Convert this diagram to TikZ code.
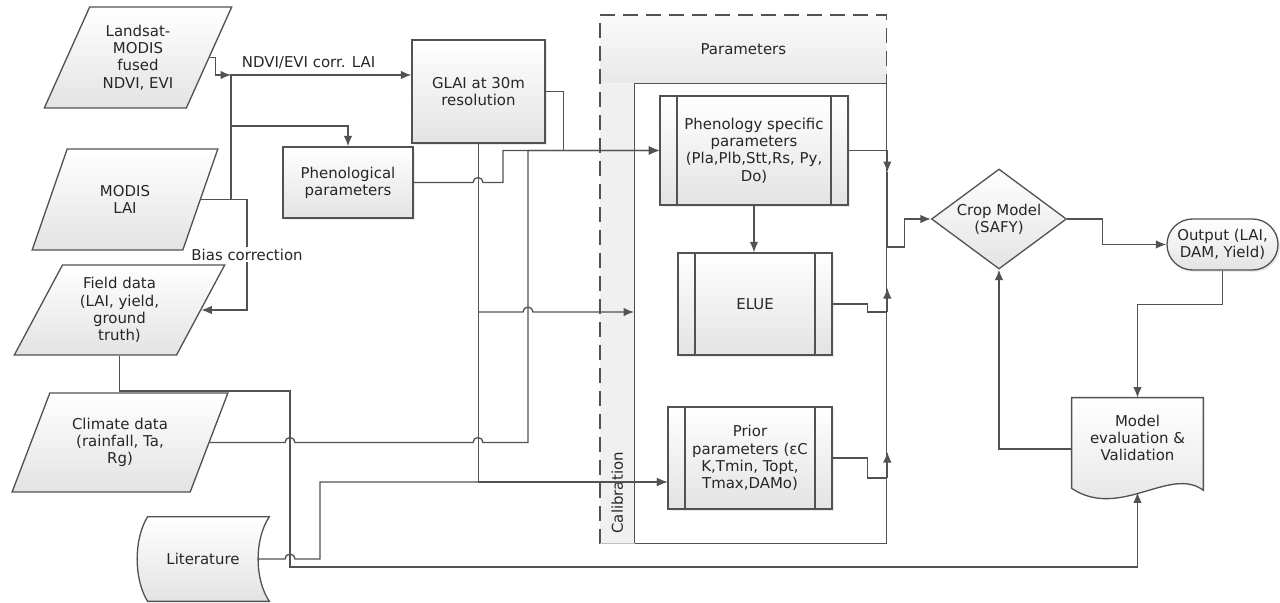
\documentclass[tikz,border=0pt]{standalone}
\usepackage{fontspec}
\setmainfont{DejaVu Sans}
\usetikzlibrary{arrows.meta,shapes.geometric,calc,backgrounds,shadows}
\colorlet{ln}{black!68}

\begin{document}
\begin{tikzpicture}[x=0.2mm,y=-0.2mm,font=\fontsize{8.5}{9.8}\selectfont,text=black!85,>=Latex,
  con/.style={draw=ln,line width=0.75pt},
  arr/.style={con,-{Latex[length=2.1mm,width=1.7mm]}},
  shd/.style={top color=white,bottom color=black!11},
  shdw/.style={drop shadow={shadow xshift=0.4mm,shadow yshift=-0.4mm,opacity=0.08,fill=black}},
  io/.style={trapezium,trapezium left angle=63,trapezium right angle=117,trapezium stretches=true,draw=ln,line width=0.75pt,shd,align=center,inner sep=1pt},
  box/.style={rectangle,draw=ln,line width=0.75pt,shd,shdw,align=center},
  proc/.style={box,path picture={
    \draw[ln,line width=0.75pt] ([xshift=3.4mm]path picture bounding box.north west)--([xshift=3.4mm]path picture bounding box.south west);
    \draw[ln,line width=0.75pt] ([xshift=-3.4mm]path picture bounding box.north east)--([xshift=-3.4mm]path picture bounding box.south east);}}]
\useasboundingbox (0,0) rectangle (1280,602);

% container: Parameters / Calibration
\node[anchor=north west,minimum width=57.2mm,minimum height=13.6mm,inner sep=0,top color=black!2,bottom color=black!9] (prm) at (600,15) {Parameters};
\node[anchor=north west,minimum width=6.8mm,minimum height=92mm,inner sep=0,fill=black!6] (cal) at (600,83) {};
\node[anchor=north west,minimum width=50.4mm,minimum height=92mm,inner sep=0,draw=ln,line width=0.75pt,fill=white] (inner) at (634,83) {};
\draw[ln,line width=0.75pt,dash pattern=on 3mm off 1.6mm] (cal.south west)--(prm.north west)--(prm.north east)--(prm.south east);
\draw[black!25,line width=0.75pt] (cal.south west)--(cal.south east);
\node[rotate=90,anchor=west] (calt) at ($(cal.south)+(0,-4)$) {Calibration};

% inputs
\node[io,minimum width=37.6mm,minimum height=20.2mm] (land) at (138,57.5) {Landsat-\\MODIS\\fused\\NDVI, EVI};
\node[io,minimum width=37.2mm,minimum height=20.2mm] (modis) at (125,199.5) {MODIS\\LAI};
\node[io,minimum width=42.2mm,minimum height=18mm] (fld) at (119.5,310) {Field data\\(LAI, yield,\\ground\\truth)};
\node[io,minimum width=43.2mm,minimum height=19.8mm] (clim) at (120,442.5) {Climate data\\(rainfall, Ta,\\Rg)};
\node[minimum width=22mm,minimum height=16.8mm,inner sep=0] (lit) at (203,559) {Literature};

\node[box,minimum width=26.6mm,minimum height=20.6mm] (glai) at (478.5,91.5) {GLAI at 30m\\resolution};
\node[box,minimum width=26mm,minimum height=14.2mm] (phpar) at (348,182.5) {Phenological\\parameters};

% parameter boxes
\node[proc,minimum width=37.6mm,minimum height=21.8mm] (phen) at (754,150.5) {Phenology specific\\parameters\\(Pla,Plb,Stt,Rs, Py,\\Do)};
\node[proc,minimum width=30.8mm,minimum height=20.4mm] (elue) at (755,304) {ELUE};
\node[proc,minimum width=32.8mm,minimum height=20.4mm] (prior) at (750,458) {Prior\\parameters (εC\\K,Tmin, Topt,\\Tmax,DAMo)};

% model and outputs
\node[diamond,draw=ln,line width=0.75pt,shd,aspect=1.35,minimum width=27mm,minimum height=20mm,inner sep=0,align=center] (crop) at (999,219) {Crop Model\\(SAFY)};
\node[box,rounded corners=5.1mm,minimum width=22.2mm,minimum height=10.2mm,inner sep=1pt] (out) at (1222.5,244.5) {Output (LAI,\\DAM, Yield)};
\node[minimum width=26.2mm,minimum height=16mm,inner sep=0,align=center] (ev) at (1137.5,438) {Model\\evaluation \&\\Validation};

\begin{pgfonlayer}{background}
\draw[ln,line width=0.75pt,shd] (ev.north west)--(ev.north east)--($(ev.south east)+(0,12)$)
  .. controls ($(ev.south east)+(-33,-13)$) and ($(ev.south west)+(48,42)$) .. ($(ev.south west)+(0,10)$)--cycle;
\draw[ln,line width=0.75pt,shd] (lit.north west)--($(lit.north east)+(11,0)$)
  .. controls ($(lit.east)+(-4,-20)$) and ($(lit.east)+(-4,20)$) .. ($(lit.south east)+(11,0)$)
  --(lit.south west) .. controls ($(lit.west)+(-14,20)$) and ($(lit.west)+(-14,-20)$) .. cycle;
\end{pgfonlayer}

\coordinate (jn) at (231,75);
\coordinate (mrg) at (inner.east |- 0,247);

% connectors, left part
\draw[arr] (land.east)--++(6,0) |- (jn);
\draw[arr] (modis.east) -| (jn)--node[above,pos=.43]{NDVI/EVI corr. LAI} (glai.west |- jn);
\draw[arr] (jn |- 0,126) -| (phpar.north);
\draw[arr] (modis.east)--++(46,0) |- node[pos=.25,fill=white,inner sep=1pt]{Bias correction} (fld.east);
\draw[arr] (fld.south) |- (290,391)--(290,567) -| ($(ev.south)+(0,14)$);
\draw[arr] (clim.east)--(285,442.5) arc[start angle=180,end angle=0,radius=1mm]--(473,442.5) arc[start angle=180,end angle=0,radius=1mm]--(528,442.5) |- (phen.west);
\draw[arr] (lit.east)--(285,559) arc[start angle=180,end angle=0,radius=1mm]--(320,559) |- ($(prior.west)+(0,24)$);
\draw[arr] (phpar.east)--(473,182.5) arc[start angle=180,end angle=0,radius=1mm]--(503,182.5) |- (phen.west);
\draw[arr] (glai.east)--++(18,0) |- (phen.west);
\draw[arr] (glai.south) |- ($(prior.west)+(0,24)$);
\draw[arr] (glai.south |- 0,312)--(523,312) arc[start angle=180,end angle=0,radius=1mm]--(inner.west |- 0,312);

% connectors, parameters to model
\draw[arr] (phen.south)--(phen.south |- elue.north);
\draw[arr] (phen.east) -| ($(mrg)+(0,-75)$);
\draw[con] ($(mrg)+(0,-75)$)--(mrg);
\draw[con] (elue.east)--++(35,0) |- ($(mrg)+(0,65)$);
\draw[arr] ($(mrg)+(0,65)$)--($(mrg)+(0,41)$);
\draw[con] (prior.east)--++(35,0) |- ($(mrg)+(0,231)$);
\draw[arr] ($(mrg)+(0,231)$)--($(mrg)+(0,205)$);
\draw[arr] (mrg)--++(17,0) |- (crop.west);

% model loop
\draw[arr] (crop.east)--++(35,0) |- (out.west);
\draw[arr] (out.south)--++(0,34) -| (ev.north);
\draw[arr] ($(ev.west)+(0,11)$) -| (crop.south);
\end{tikzpicture}
\end{document}
